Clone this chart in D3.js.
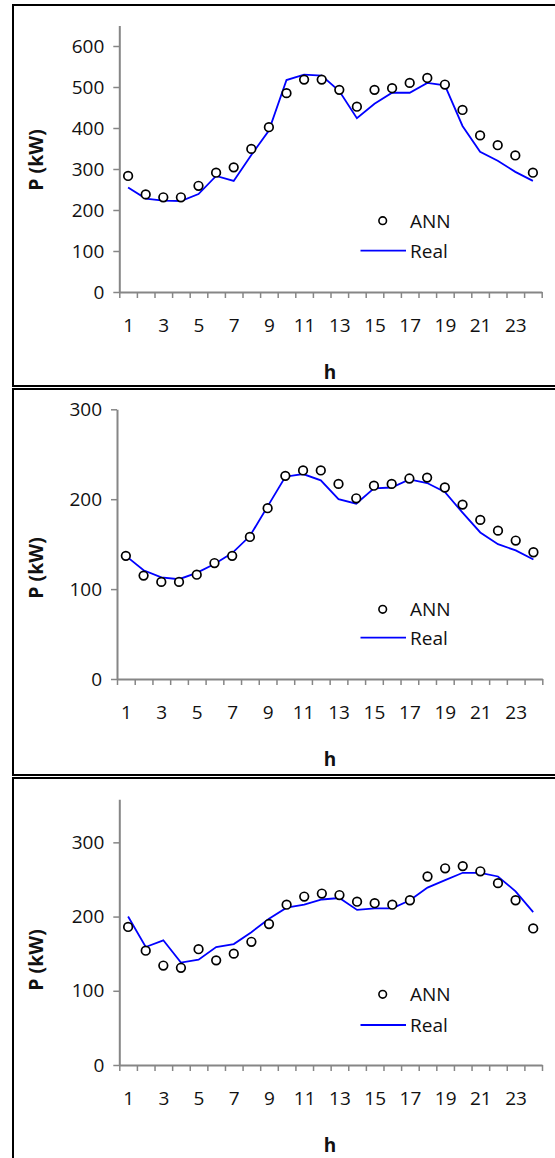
<!DOCTYPE html>
<html>
<head>
<meta charset="utf-8">
<script src="https://cdn.jsdelivr.net/npm/d3@7"></script>
<style>
  html, body { margin: 0; padding: 0; background: #fff; }
  svg { display: block; }
  text { font-family: "Open Sans", "Noto Sans", sans-serif; }
</style>
</head>
<body>
<svg id="chart" width="555" height="1158"></svg>
<script>
// Hourly load profiles: ANN forecast vs. measured power, three days
const hours = d3.range(1, 25);
const hourLabels = [1, 3, 5, 7, 9, 11, 13, 15, 17, 19, 21, 23];

const ann1  = [283, 238, 231, 231, 259, 291, 304, 349, 402, 485, 518, 518,
               493, 452, 493, 497, 510, 522, 506, 444, 382, 358, 333, 291];
const real1 = [255, 228, 223, 222, 239, 283, 271, 334, 394, 517, 530, 528,
               490, 424, 459, 486, 486, 510, 504, 405, 342, 320, 293, 271];
const yTicks1 = [0, 100, 200, 300, 400, 500, 600];

const ann2  = [137, 115, 108, 108, 116, 129, 137, 158, 190, 226, 232, 232,
               217, 201, 215, 217, 223, 224, 213, 194, 177, 165, 154, 141];
const real2 = [137, 121, 113, 111, 118, 128, 140, 159, 192, 225, 228, 221,
               200, 195, 212, 213, 222, 218, 208, 185, 163, 150, 143, 133];
const yTicks2 = [0, 100, 200, 300];

const ann3  = [186, 154, 134, 131, 156, 141, 150, 166, 190, 216, 227, 231,
               229, 220, 218, 216, 222, 254, 265, 268, 261, 245, 222, 184];
const real3 = [200, 159, 168, 138, 142, 159, 163, 179, 197, 212, 216, 223,
               225, 209, 211, 211, 222, 239, 249, 259, 259, 254, 234, 206];
const yTicks3 = [0, 100, 200, 300];

const seriesNames = ["ANN", "Real"];

const svg = d3.select("#chart");

function drawPanel(cfg) {
  const g = svg.append("g");

  // outer frame of the panel (runs past the right edge)
  g.append("rect")
    .attr("x", 13).attr("y", cfg.top)
    .attr("width", 560).attr("height", cfg.height)
    .attr("fill", "none").attr("stroke", "#000").attr("stroke-width", 2);

  const x = d3.scaleLinear().domain([0.5, 24.5]).range([cfg.x0, cfg.x1]);
  const y = d3.scaleLinear().domain([0, cfg.yMax]).range([cfg.yBottom, cfg.yTop]);

  // y axis
  const yAxis = g.append("g")
    .attr("transform", `translate(${cfg.x0},0)`)
    .call(d3.axisLeft(y).tickValues(cfg.yTicks).tickSize(6).tickPadding(9).tickSizeOuter(0));
  yAxis.select(".domain").attr("stroke", "#868686").attr("stroke-width", 2);
  yAxis.selectAll(".tick line").attr("stroke", "#868686").attr("stroke-width", 1.5);
  yAxis.selectAll("text").attr("font-size", 19).attr("fill", "#111")
    .attr("font-family", "'Open Sans', sans-serif");

  // x axis: tick marks between categories
  const xTicks = g.append("g")
    .attr("transform", `translate(0,${cfg.yBottom})`)
    .call(d3.axisBottom(x).tickValues(d3.range(0.5, 25, 1)).tickFormat("").tickSize(6).tickSizeOuter(0));
  xTicks.select(".domain").attr("stroke", "#868686").attr("stroke-width", 2);
  xTicks.selectAll(".tick line").attr("stroke", "#868686").attr("stroke-width", 1.5);

  // x axis: labels at category centres
  const xLabels = g.append("g")
    .attr("transform", `translate(0,${cfg.yBottom})`)
    .call(d3.axisBottom(x).tickValues(hourLabels).tickSize(0).tickPadding(27));
  xLabels.select(".domain").remove();
  xLabels.selectAll("text").attr("font-size", 19).attr("fill", "#111")
    .attr("font-family", "'Open Sans', sans-serif");

  // axis titles
  g.append("text")
    .attr("transform", `translate(43,${cfg.yTitleY}) rotate(-90)`)
    .attr("text-anchor", "middle")
    .attr("font-size", 19.5).attr("font-weight", "bold").attr("fill", "#111")
    .text("P (kW)");
  g.append("text")
    .attr("x", 330).attr("y", cfg.yBottom + 87)
    .attr("text-anchor", "middle")
    .attr("font-size", 19).attr("font-weight", "bold").attr("fill", "#111")
    .text("h");

  // measured series
  const line = d3.line().x((d, i) => x(hours[i])).y(d => y(d));
  g.append("path")
    .datum(cfg.real)
    .attr("d", line)
    .attr("fill", "none").attr("stroke", "#0000ff").attr("stroke-width", 1.8)
    .attr("stroke-linejoin", "miter");

  // forecast points
  g.selectAll("circle.ann")
    .data(cfg.ann)
    .join("circle")
    .attr("class", "ann")
    .attr("cx", (d, i) => x(hours[i]))
    .attr("cy", d => y(d))
    .attr("r", 4.3)
    .attr("fill", "#fff").attr("stroke", "#000").attr("stroke-width", 1.7);

  // legend
  const lg = g.append("g");
  lg.append("circle")
    .attr("cx", 382.7).attr("cy", cfg.legendY)
    .attr("r", 3.8).attr("fill", "#fff").attr("stroke", "#000").attr("stroke-width", 1.6);
  lg.append("text")
    .attr("x", 410).attr("y", cfg.legendY + 7)
    .attr("font-size", 19).attr("fill", "#111")
    .text(seriesNames[0]);
  lg.append("line")
    .attr("x1", 360.5).attr("x2", 406)
    .attr("y1", cfg.legendY + cfg.legendGap).attr("y2", cfg.legendY + cfg.legendGap)
    .attr("stroke", "#0000ff").attr("stroke-width", 1.8);
  lg.append("text")
    .attr("x", 410).attr("y", cfg.legendY + cfg.legendGap + 7)
    .attr("font-size", 19).attr("fill", "#111")
    .text(seriesNames[1]);
}

drawPanel({
  top: 5, height: 381,
  x0: 119.3, x1: 541.7, yTop: 25.5, yBottom: 292, yMax: 650,
  yTicks: yTicks1, ann: ann1, real: real1,
  yTitleY: 160, legendY: 220.7, legendGap: 30
});

drawPanel({
  top: 389, height: 386,
  x0: 117, x1: 542.3, yTop: 409.3, yBottom: 679, yMax: 300,
  yTicks: yTicks2, ann: ann2, real: real2,
  yTitleY: 568, legendY: 609.3, legendGap: 28.4
});

drawPanel({
  top: 778, height: 400,
  x0: 119.3, x1: 542, yTop: 799.3, yBottom: 1065, yMax: 358,
  yTicks: yTicks3, ann: ann3, real: real3,
  yTitleY: 960, legendY: 994.3, legendGap: 30.7
});
</script>
</body>
</html>
